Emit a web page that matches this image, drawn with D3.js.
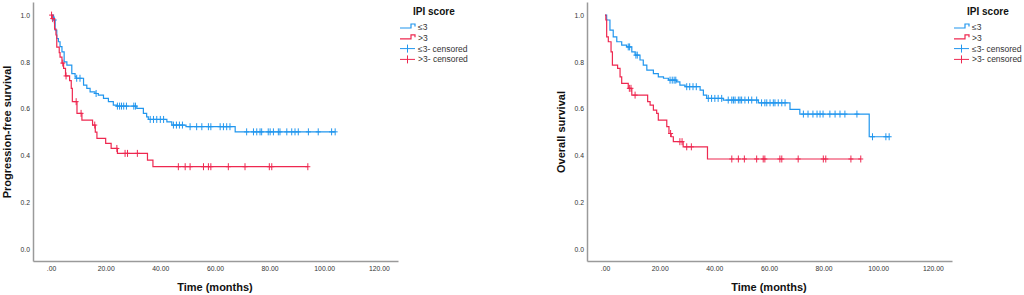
<!DOCTYPE html>
<html>
<head>
<meta charset="utf-8">
<script src="https://cdn.jsdelivr.net/npm/d3@7"></script>
<style>
  body { margin: 0; background: #fff; }
  text { font-family: "Liberation Sans", Arial, sans-serif; }
</style>
</head>
<body>
<script>
// Tick values shared by both panels
var xTicks = [0, 20, 40, 60, 80, 100, 120];
var yTicks = [0, 0.2, 0.4, 0.6, 0.8, 1.0];
var groups = ["≤3", ">3"];

// Progression-free survival, IPI <= 3
var pfsLowTime = [0.9, 1.5, 2.1, 2.7, 3.3, 4.0, 4.8, 5.8, 7.6, 8.8, 9.2, 11.9, 13.1, 14.3, 16.1, 17.3, 19.2, 21.0, 22.8, 24.0, 31.4, 33.8, 35.0, 35.6, 42.4, 44.2, 49.4, 67.4];
var pfsLowSurv = [0.979, 0.936, 0.90, 0.886, 0.865, 0.843, 0.80, 0.786, 0.75, 0.736, 0.73, 0.701, 0.687, 0.672, 0.665, 0.658, 0.644, 0.63, 0.615, 0.611, 0.601, 0.58, 0.565, 0.554, 0.544, 0.53, 0.523, 0.501];
var pfsLowCens = [1.2, 9.4, 10.6, 16.5, 24.3, 25.1, 25.8, 26.6, 27.6, 30.3, 30.9, 36.3, 37.5, 38.7, 40.0, 41.2, 44.8, 45.9, 47.0, 48.1, 50.9, 53.3, 55.2, 57.6, 58.5, 61.9, 63.1, 64.3, 65.5, 71.6, 74.1, 75.3, 76.5, 77.1, 79.5, 80.2, 81.4, 83.2, 83.8, 86.3, 88.1, 89.3, 90.5, 94.2, 97.8, 102.7, 104.0];

// Progression-free survival, IPI > 3
var pfsHighTime = [0.3, 1.3, 1.8, 2.1, 3.0, 3.3, 4.0, 4.6, 5.3, 6.8, 7.4, 7.8, 9.5, 11.3, 15.2, 16.2, 16.8, 20.0, 22.0, 24.3, 35.3, 37.3];
var pfsHighSurv = [0.985, 0.94, 0.915, 0.863, 0.84, 0.82, 0.795, 0.772, 0.74, 0.72, 0.687, 0.63, 0.58, 0.551, 0.53, 0.50, 0.473, 0.452, 0.43, 0.409, 0.38, 0.352];
var pfsHighCens = [0.2, 0.6, 4.3, 5.5, 9.2, 11.0, 16.0, 24.1, 27.1, 28.0, 31.6, 46.6, 49.1, 50.9, 55.8, 57.6, 58.5, 64.9, 71.0, 79.9, 80.8, 94.0];

// Overall survival, IPI <= 3
var osLowTime = [0.6, 1.8, 3.0, 4.3, 6.1, 7.9, 9.8, 11.0, 12.8, 14.0, 15.3, 17.7, 19.5, 21.4, 23.2, 26.2, 27.4, 29.3, 34.8, 36.0, 37.2, 43.3, 56.1, 67.7, 71.3, 96.7];
var osLowSurv = [0.979, 0.936, 0.907, 0.886, 0.872, 0.864, 0.843, 0.829, 0.808, 0.786, 0.765, 0.75, 0.736, 0.73, 0.722, 0.715, 0.701, 0.694, 0.679, 0.658, 0.644, 0.637, 0.625, 0.597, 0.577, 0.48];
var osLowCens = [8.5, 9.0, 11.3, 11.8, 23.8, 24.6, 25.3, 25.9, 29.9, 31.0, 32.2, 33.4, 37.8, 39.0, 40.2, 41.4, 42.7, 45.1, 46.4, 47.0, 47.6, 48.8, 49.4, 50.0, 51.2, 52.5, 53.7, 55.5, 57.3, 58.5, 59.2, 60.4, 61.6, 62.2, 63.4, 64.7, 65.9, 72.6, 74.3, 76.1, 77.6, 78.7, 79.8, 82.3, 84.2, 86.0, 87.8, 92.2, 97.9, 102.8, 104.0];

// Overall survival, IPI > 3
var osHighTime = [0.3, 0.6, 1.2, 2.2, 2.7, 4.6, 5.5, 6.1, 8.5, 9.8, 15.6, 16.5, 17.7, 18.9, 19.5, 22.6, 23.4, 24.2, 25.0, 28.6, 37.5];
var osHighSurv = [0.98, 0.907, 0.886, 0.843, 0.786, 0.772, 0.736, 0.708, 0.687, 0.658, 0.63, 0.615, 0.594, 0.58, 0.551, 0.523, 0.494, 0.48, 0.459, 0.437, 0.385];
var osHighCens = [8.9, 9.5, 11.0, 24.0, 27.4, 28.2, 29.9, 31.6, 46.4, 48.8, 51.0, 55.5, 57.9, 58.5, 64.0, 64.7, 70.7, 79.9, 80.8, 90.0, 93.6];

var colors = ["#2196ee", "#ee2850"];
var axisColor = "#9a9a9a";

var panels = [
    { x0: 33, x1: 398, yTitle: "Progression-free survival",
      series: [
        { time: pfsLowTime, surv: pfsLowSurv, cens: pfsLowCens },
        { time: pfsHighTime, surv: pfsHighSurv, cens: pfsHighCens }
      ] },
    { x0: 587, x1: 952, yTitle: "Overall survival",
      series: [
        { time: osLowTime, surv: osLowSurv, cens: osLowCens },
        { time: osHighTime, surv: osHighSurv, cens: osHighCens }
      ] }
];

var svg = d3.select("body").append("svg")
    .attr("width", 1024)
    .attr("height", 295);

// step lookup of the survival value at time t
function survAt(times, surv, t) {
    var s = 1;
    for (var i = 0; i < times.length; i++) {
        if (times[i] <= t) s = surv[i];
    }
    return s;
}

var fmtX = function(d) { return d3.format(".2f")(d).replace(/^0\./, "."); };

panels.forEach(function(p) {
    var x = d3.scaleLinear().domain([-6.6, 127]).range([p.x0, p.x1]);
    var y = d3.scaleLinear().domain([-0.051, 1.056]).range([261, 2]);

    var g = svg.append("g");

    // X axis
    var xa = g.append("g")
        .attr("transform", "translate(0," + y.range()[0] + ")")
        .call(d3.axisBottom(x).tickValues(xTicks).tickSize(0).tickSizeOuter(0).tickPadding(5).tickFormat(fmtX));
    // Y axis
    var ya = g.append("g")
        .attr("transform", "translate(" + p.x0 + ",0)")
        .call(d3.axisLeft(y).tickValues(yTicks).tickSize(0).tickSizeOuter(0).tickPadding(3).tickFormat(d3.format(".1f")));

    [xa, ya].forEach(function(a) {
        a.select(".domain").attr("stroke", axisColor).attr("stroke-width", 1.5);
        a.selectAll("text")
            .attr("fill", "#333")
            .style("font-size", "6.8px");
    });

    // Survival curves
    var line = d3.line()
        .curve(d3.curveStepAfter)
        .x(function(d) { return x(d[0]); })
        .y(function(d) { return y(d[1]); });

    p.series.forEach(function(s, i) {
        var end = d3.max(s.cens.concat(s.time));
        var pts = [[0, 1]];
        s.time.forEach(function(t, j) { pts.push([t, s.surv[j]]); });
        pts.push([end, s.surv[s.surv.length - 1]]);

        g.append("path")
            .datum(pts)
            .attr("fill", "none")
            .attr("stroke", colors[i])
            .attr("stroke-width", 1.2)
            .attr("d", line);

        // censored marks (+)
        var marks = g.append("g").attr("stroke", colors[i]).attr("stroke-width", 1);
        s.cens.forEach(function(t) {
            var cx = x(t), cy = y(survAt(s.time, s.surv, t));
            marks.append("line").attr("x1", cx).attr("x2", cx).attr("y1", cy - 3.5).attr("y2", cy + 3.5);
            marks.append("line").attr("x1", cx - 2.5).attr("x2", cx + 2.5).attr("y1", cy).attr("y2", cy);
        });
    });

    // Axis titles
    g.append("text")
        .attr("x", (x(xTicks[0]) + x(xTicks[xTicks.length - 1])) / 2 + 0)
        .attr("y", 291)
        .attr("text-anchor", "middle")
        .style("font-size", "11px")
        .style("font-weight", "bold")
        .attr("fill", "#111")
        .text("Time (months)");

    g.append("text")
        .attr("transform", "translate(" + (p.x0 - 22) + "," + 132 + ") rotate(-90)")
        .attr("text-anchor", "middle")
        .style("font-size", "11px")
        .style("font-weight", "bold")
        .attr("fill", "#111")
        .text(p.yTitle);

    // Legend
    var lx = p.x1 + 2;
    var leg = g.append("g").attr("transform", "translate(" + lx + ",0)");
    leg.append("text")
        .attr("x", 13)
        .attr("y", 15)
        .style("font-size", "10px")
        .style("font-weight", "bold")
        .attr("fill", "#111")
        .text("IPI score");

    var labels = [groups[0], groups[1], groups[0] + "- censored", groups[1] + "- censored"];
    labels.forEach(function(lab, k) {
        var cy = 27 + k * 10.8;
        var c = colors[k % 2];
        if (k < 2) {
            leg.append("path")
                .attr("fill", "none")
                .attr("stroke", c)
                .attr("stroke-width", 1.2)
                .attr("d", "M0," + (cy + 1) + "H11V" + (cy - 3) + "H15V" + (cy - 0.5));
        } else {
            leg.append("line").attr("stroke", c).attr("x1", 0).attr("x2", 15).attr("y1", cy).attr("y2", cy);
            leg.append("line").attr("stroke", c).attr("x1", 7.5).attr("x2", 7.5).attr("y1", cy - 4).attr("y2", cy + 4);
        }
        leg.append("text")
            .attr("x", 18)
            .attr("y", cy + 3)
            .style("font-size", "8.5px")
            .attr("fill", "#333")
            .text(lab);
    });
});
</script>
</body>
</html>
